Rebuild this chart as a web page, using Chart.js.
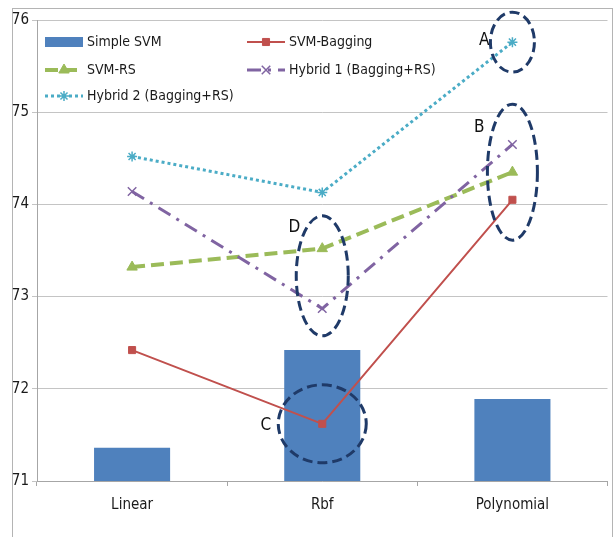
<!DOCTYPE html>
<html>
<head>
<meta charset="utf-8">
<script src="https://cdn.jsdelivr.net/npm/chart.js@4/dist/chart.umd.min.js"></script>
<style>
  html, body { margin: 0; padding: 0; background: #fff; }
  #wrap { width: 615px; height: 537px; }
</style>
</head>
<body>
<div id="wrap"><canvas id="c" width="615" height="537"></canvas></div>
<script>
// Kernel types on the x axis
const categories = ['Linear', 'Rbf', 'Polynomial'];

// Accuracy (%) per method and kernel
const simpleSVM  = [71.36, 72.42, 71.89];
const svmBagging = [72.42, 71.62, 74.05];
const svmRS      = [73.32, 73.52, 74.35];
const hybrid1    = [74.14, 72.87, 74.65];
const hybrid2    = [74.52, 74.13, 75.76];

// Value axis
const yMin = 71, yMax = 76, yStep = 1;

const FONT = "'Liberation Sans Narrow', 'DejaVu Sans Condensed', 'Noto Sans', sans-serif";

// Highlight rings: label, kernel index, value at the centre, radii in px
const rings = [
  { label: 'A', cat: 2, value: hybrid2[2], rx: 22, ry: 30 },
  { label: 'B', cat: 2, value: (svmBagging[2] + hybrid1[2]) / 2, rx: 25, ry: 68 },
  { label: 'C', cat: 1, value: svmBagging[1], rx: 44, ry: 39 },
  { label: 'D', cat: 1, value: (hybrid1[1] + svmRS[1]) / 2 + 0.03, rx: 26, ry: 60 }
];

const frame = {
  id: 'frame',
  beforeDraw(chart) {
    const ctx = chart.ctx;
    ctx.save();
    ctx.fillStyle = '#fff';
    ctx.fillRect(0, 0, chart.width, chart.height);
    ctx.strokeStyle = '#b4b4b4';
    ctx.lineWidth = 1;
    ctx.strokeRect(12.5, 8.5, 600, 540);
    ctx.restore();
  }
};

const inlineLegend = {
  id: 'inlineLegend',
  afterDatasetsDraw(chart) {
    const ctx = chart.ctx;
    const slots = [[45, 42], [247, 42], [45, 70], [247, 70], [45, 96]];
    ctx.save();
    chart.data.datasets.forEach((ds, i) => {
      const [x, y] = slots[i];
      const w = 38;
      if (ds.type === 'bar') {
        ctx.fillStyle = ds.backgroundColor;
        ctx.fillRect(x, y - 5, w, 10);
      } else {
        ctx.save();
        ctx.strokeStyle = ds.borderColor;
        ctx.lineWidth = ds.borderWidth;
        ctx.setLineDash(ds.borderDash || []);
        ctx.beginPath();
        ctx.moveTo(x, y);
        ctx.lineTo(x + w, y);
        ctx.stroke();
        ctx.restore();
        ctx.save();
        ctx.setLineDash([]);
        ctx.fillStyle = ds.pointBackgroundColor;
        ctx.strokeStyle = ds.pointBorderColor;
        ctx.lineWidth = ds.pointBorderWidth;
        Chart.helpers.drawPoint(ctx, {
          pointStyle: ds.pointStyle, radius: ds.pointRadius, rotation: 0, borderWidth: ds.pointBorderWidth
        }, x + w / 2, y);
        ctx.restore();
      }
      ctx.fillStyle = '#1a1a1a';
      ctx.font = '14px ' + FONT;
      ctx.textAlign = 'left';
      ctx.textBaseline = 'middle';
      ctx.fillText(ds.label, x + w + 4, y);
    });
    ctx.restore();
  }
};

const ringMarks = {
  id: 'ringMarks',
  afterDatasetsDraw(chart) {
    const ctx = chart.ctx;
    const xs = chart.scales.x, ys = chart.scales.y;
    ctx.save();
    rings.forEach(r => {
      const cx = xs.getPixelForValue(r.cat);
      const cy = ys.getPixelForValue(r.value);
      ctx.strokeStyle = '#1f3a68';
      ctx.lineWidth = 3;
      ctx.setLineDash([10, 5]);
      ctx.beginPath();
      ctx.ellipse(cx, cy, r.rx, r.ry, 0, 0, Math.PI * 2);
      ctx.stroke();
      ctx.setLineDash([]);
      ctx.fillStyle = '#111';
      ctx.font = '17px ' + FONT;
      ctx.textAlign = 'right';
      ctx.textBaseline = 'middle';
      let tx = cx - r.rx - 1, ty = cy;
      if (r.label === 'B') { tx = cx - r.rx - 3; ty = cy - 45; }
      if (r.label === 'C') { tx = cx - r.rx - 7; ty = cy + 2; }
      if (r.label === 'D') { tx = cx - r.rx + 4; ty = cy - 48; }
      if (r.label === 'A') { tx = cx - r.rx - 1; ty = cy - 2; }
      ctx.fillText(r.label, tx, ty);
    });
    ctx.restore();
  }
};

new Chart(document.getElementById('c'), {
  data: {
    labels: categories,
    datasets: [
      {
        type: 'bar', label: 'Simple SVM', data: simpleSVM,
        backgroundColor: '#4f81bd', borderWidth: 0,
        barPercentage: 0.4, categoryPercentage: 1, order: 10
      },
      {
        type: 'line', label: 'SVM-Bagging', data: svmBagging,
        borderColor: '#c0504d', borderWidth: 2, borderDash: [],
        pointStyle: 'rect', pointRadius: 5, pointBorderWidth: 1,
        pointBackgroundColor: '#c0504d', pointBorderColor: '#c0504d',
        tension: 0, order: 4
      },
      {
        type: 'line', label: 'SVM-RS', data: svmRS,
        borderColor: '#9bbb59', borderWidth: 4, borderDash: [13, 6],
        pointStyle: 'triangle', pointRadius: 6, pointBorderWidth: 1,
        pointBackgroundColor: '#9bbb59', pointBorderColor: '#9bbb59',
        tension: 0, order: 3
      },
      {
        type: 'line', label: 'Hybrid 1 (Bagging+RS)', data: hybrid1,
        borderColor: '#8064a2', borderWidth: 3, borderDash: [14, 7, 3, 7],
        pointStyle: 'crossRot', pointRadius: 6, pointBorderWidth: 1.5,
        pointBackgroundColor: '#8064a2', pointBorderColor: '#8064a2',
        tension: 0, order: 2
      },
      {
        type: 'line', label: 'Hybrid 2 (Bagging+RS)', data: hybrid2,
        borderColor: '#4bacc6', borderWidth: 3, borderDash: [3, 3],
        pointStyle: 'star', pointRadius: 5, pointBorderWidth: 1.5,
        pointBackgroundColor: '#4bacc6', pointBorderColor: '#4bacc6',
        tension: 0, order: 1
      }
    ]
  },
  options: {
    responsive: false,
    animation: false,
    layout: { padding: { left: 0, right: 3, top: 20, bottom: 0 } },
    plugins: { legend: { display: false }, tooltip: { enabled: false } },
    scales: {
      x: {
        offset: true,
        grid: { offset: true, drawOnChartArea: false, drawTicks: true, tickLength: 5, color: '#a6a6a6' },
        border: { color: '#a6a6a6' },
        ticks: { color: '#1a1a1a', font: { family: FONT, size: 15 }, padding: 10 },
        afterFit(s) { s.height = 56; }
      },
      y: {
        min: yMin, max: yMax,
        grid: { color: '#c4c4c4', tickLength: 5 },
        border: { color: '#a6a6a6' },
        ticks: { stepSize: yStep, color: '#1a1a1a', font: { family: FONT, size: 15 }, padding: 3 },
        afterFit(s) { s.width = 37; }
      }
    }
  },
  plugins: [frame, inlineLegend, ringMarks]
});
</script>
</body>
</html>
